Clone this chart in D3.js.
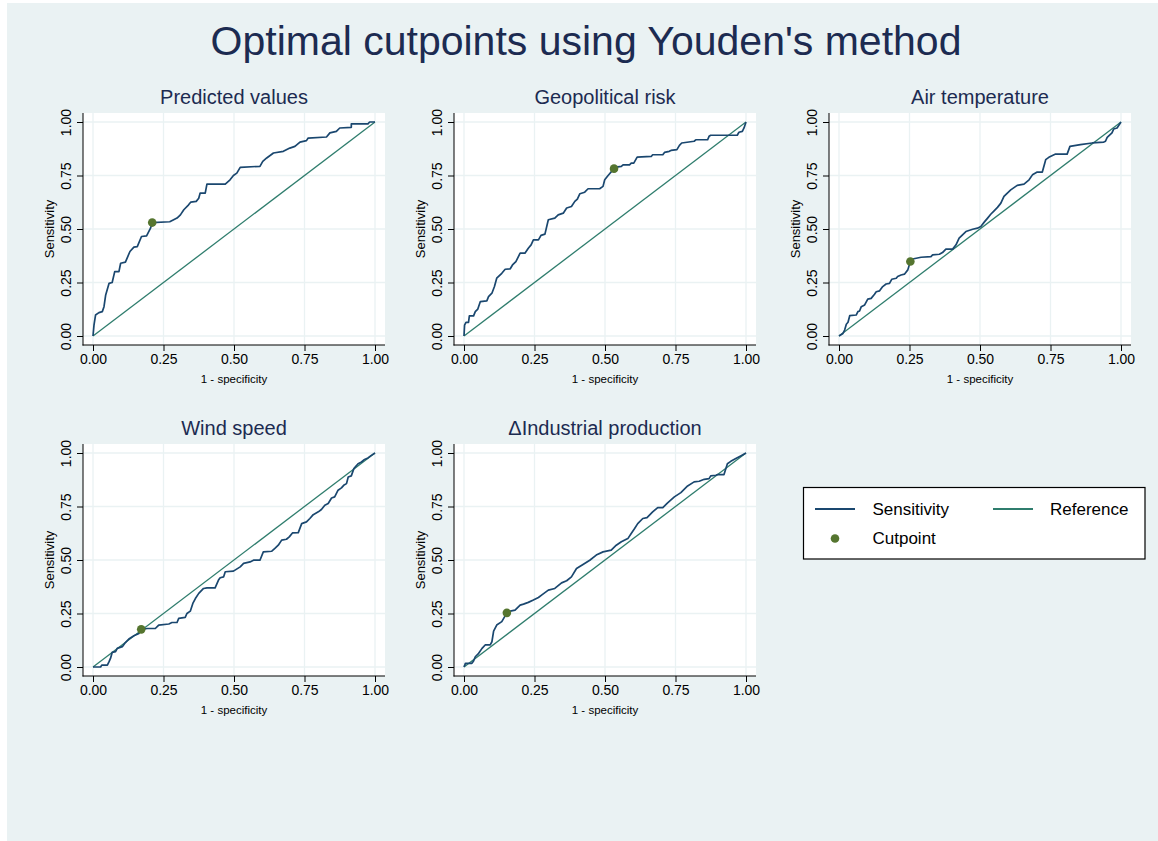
<!DOCTYPE html>
<html>
<head>
<meta charset="utf-8">
<script src="https://cdn.jsdelivr.net/npm/d3@7"></script>
<style>
  body { margin: 0; background: #ffffff; }
  svg { display: block; font-family: "Liberation Sans", Arial, sans-serif; }
</style>
</head>
<body>
<script>
// ---------------- DATA ----------------
const mainTitle = "Optimal cutpoints using Youden's method";
const panelTitles = ["Predicted values", "Geopolitical risk", "Air temperature", "Wind speed", "\u0394Industrial production"];
const xAxisTitle = "1 - specificity";
const yAxisTitle = "Sensitivity";
const tickValues = [0, 0.25, 0.5, 0.75, 1];
const tickLabels = ["0.00", "0.25", "0.50", "0.75", "1.00"];
const legendLabels = ["Sensitivity", "Reference", "Cutpoint"];

// ROC curves: [1 - specificity, sensitivity]
const rocPredicted = [
  [0,0],[0.0035,0.051],[0.009,0.098],[0.021,0.109],[0.033,0.114],[0.039,0.137],[0.045,0.192],
  [0.057,0.246],[0.068,0.250],[0.077,0.301],[0.092,0.301],[0.098,0.340],[0.115,0.345],
  [0.131,0.395],[0.145,0.415],[0.157,0.418],[0.172,0.465],[0.190,0.468],[0.204,0.504],
  [0.210,0.530],[0.272,0.534],[0.286,0.543],[0.298,0.551],[0.310,0.566],[0.322,0.590],
  [0.339,0.613],[0.347,0.626],[0.366,0.629],[0.375,0.644],[0.380,0.668],[0.398,0.668],
  [0.404,0.710],[0.469,0.710],[0.486,0.730],[0.498,0.750],[0.510,0.761],[0.522,0.788],
  [0.592,0.793],[0.602,0.816],[0.616,0.832],[0.640,0.855],[0.675,0.863],[0.698,0.878],
  [0.716,0.886],[0.734,0.906],[0.757,0.913],[0.763,0.925],[0.828,0.930],[0.840,0.949],
  [0.863,0.956],[0.875,0.972],[0.916,0.975],[0.916,0.991],[0.975,0.991],[0.981,1.0],[1,1]
];
const rocGeopolitical = [
  [0,0],[0.002,0.051],[0.007,0.064],[0.016,0.064],[0.019,0.094],[0.034,0.094],[0.040,0.114],
  [0.049,0.126],[0.058,0.161],[0.081,0.164],[0.087,0.184],[0.099,0.200],[0.108,0.231],
  [0.116,0.270],[0.134,0.293],[0.146,0.312],[0.164,0.314],[0.172,0.332],[0.184,0.348],
  [0.199,0.387],[0.216,0.387],[0.228,0.410],[0.238,0.426],[0.246,0.449],[0.264,0.449],
  [0.273,0.470],[0.287,0.476],[0.299,0.543],[0.322,0.551],[0.334,0.566],[0.352,0.574],
  [0.364,0.598],[0.381,0.605],[0.393,0.629],[0.402,0.640],[0.411,0.665],[0.428,0.672],
  [0.440,0.688],[0.481,0.688],[0.493,0.699],[0.499,0.730],[0.511,0.750],[0.532,0.782],
  [0.540,0.789],[0.558,0.793],[0.564,0.800],[0.587,0.800],[0.593,0.808],[0.602,0.808],
  [0.614,0.836],[0.664,0.839],[0.669,0.847],[0.705,0.847],[0.711,0.858],[0.728,0.863],
  [0.734,0.867],[0.755,0.871],[0.764,0.891],[0.772,0.902],[0.816,0.910],[0.822,0.917],
  [0.864,0.917],[0.869,0.933],[0.875,0.938],[0.969,0.938],[0.975,0.952],[0.987,0.956],
  [0.993,0.972],[1,1]
];
const rocAirTemp = [
  [0,0],[0.014,0.012],[0.020,0.028],[0.026,0.055],[0.032,0.064],[0.038,0.095],[0.061,0.098],
  [0.067,0.114],[0.073,0.117],[0.079,0.137],[0.091,0.145],[0.102,0.172],[0.114,0.176],
  [0.126,0.195],[0.132,0.207],[0.144,0.211],[0.155,0.231],[0.167,0.243],[0.179,0.246],
  [0.187,0.265],[0.203,0.270],[0.208,0.278],[0.220,0.285],[0.232,0.289],[0.244,0.309],
  [0.253,0.348],[0.261,0.360],[0.291,0.368],[0.326,0.371],[0.332,0.379],[0.356,0.382],
  [0.367,0.390],[0.379,0.406],[0.403,0.406],[0.415,0.426],[0.426,0.457],[0.438,0.473],
  [0.450,0.488],[0.474,0.499],[0.491,0.504],[0.503,0.512],[0.515,0.532],[0.527,0.551],
  [0.538,0.569],[0.550,0.585],[0.562,0.601],[0.574,0.621],[0.585,0.652],[0.597,0.668],
  [0.609,0.683],[0.632,0.704],[0.656,0.710],[0.674,0.730],[0.686,0.753],[0.703,0.766],
  [0.721,0.766],[0.733,0.824],[0.744,0.835],[0.768,0.850],[0.809,0.850],[0.819,0.886],
  [0.856,0.894],[0.898,0.902],[0.939,0.906],[0.945,0.910],[0.951,0.928],[0.968,0.949],
  [0.974,0.967],[0.986,0.972],[1,1]
];
const rocWindSpeed = [
  [0,0],[0.027,0],[0.031,0.009],[0.051,0.009],[0.057,0.025],[0.062,0.040],[0.068,0.068],
  [0.080,0.072],[0.086,0.087],[0.104,0.095],[0.115,0.114],[0.127,0.131],[0.145,0.146],
  [0.163,0.157],[0.171,0.176],[0.192,0.180],[0.221,0.180],[0.233,0.196],[0.269,0.201],
  [0.280,0.208],[0.298,0.208],[0.304,0.227],[0.327,0.232],[0.333,0.250],[0.345,0.261],
  [0.354,0.297],[0.363,0.320],[0.375,0.344],[0.392,0.367],[0.404,0.370],[0.433,0.370],
  [0.445,0.406],[0.451,0.417],[0.463,0.421],[0.469,0.445],[0.498,0.448],[0.522,0.468],
  [0.534,0.484],[0.557,0.491],[0.569,0.499],[0.592,0.499],[0.604,0.538],[0.634,0.541],
  [0.645,0.554],[0.657,0.569],[0.669,0.593],[0.686,0.597],[0.696,0.608],[0.708,0.627],
  [0.728,0.628],[0.740,0.670],[0.757,0.678],[0.769,0.694],[0.781,0.712],[0.799,0.725],
  [0.810,0.736],[0.822,0.756],[0.834,0.764],[0.846,0.790],[0.857,0.795],[0.869,0.826],
  [0.881,0.837],[0.889,0.849],[0.899,0.857],[0.905,0.888],[0.916,0.893],[0.925,0.927],
  [0.940,0.950],[0.952,0.958],[0.963,0.970],[0.975,0.977],[0.987,0.989],[1,1]
];
const rocIndustrial = [
  [0,0],[0.002,0.006],[0.005,0.017],[0.028,0.017],[0.034,0.028],[0.040,0.048],[0.052,0.064],
  [0.064,0.087],[0.075,0.103],[0.093,0.103],[0.099,0.118],[0.105,0.168],[0.116,0.196],
  [0.134,0.212],[0.152,0.253],[0.164,0.261],[0.181,0.266],[0.199,0.289],[0.211,0.294],
  [0.228,0.302],[0.246,0.313],[0.264,0.325],[0.275,0.336],[0.299,0.359],[0.322,0.367],
  [0.346,0.393],[0.364,0.403],[0.381,0.421],[0.399,0.460],[0.422,0.479],[0.446,0.499],
  [0.469,0.523],[0.493,0.538],[0.522,0.546],[0.540,0.569],[0.558,0.585],[0.581,0.600],
  [0.593,0.624],[0.605,0.647],[0.616,0.670],[0.634,0.694],[0.649,0.698],[0.669,0.725],
  [0.687,0.745],[0.705,0.745],[0.722,0.767],[0.746,0.795],[0.769,0.815],[0.793,0.846],
  [0.816,0.865],[0.834,0.868],[0.852,0.877],[0.869,0.880],[0.875,0.893],[0.893,0.896],
  [0.899,0.899],[0.922,0.899],[0.934,0.950],[0.946,0.961],[0.964,0.974],[0.981,0.986],[1,1]
];
const rocCurves = [rocPredicted, rocGeopolitical, rocAirTemp, rocWindSpeed, rocIndustrial];
const cutpoints = [[0.210,0.530],[0.532,0.782],[0.253,0.348],[0.171,0.176],[0.152,0.253]];
const referenceLine = [[0,0],[1,1]];

// ---------------- STYLE / LAYOUT ----------------
const W = 1158, H = 841;
const bgColor = "#eaf2f3";
const gridColor = "#eaf2f3";
const titleColor = "#1c2b51";
const sensColor = "#1a476f";
const refColor = "#2f7d6d";
const cutColor = "#55752f";
const fontFam = "'Liberation Sans', Arial, Helvetica, sans-serif";

const colLefts = [83, 454, 829];
const rowTops = [113, 444];
const plotW = 302, plotH = 232;
const padX = 10, padY = 9;

const svg = d3.select("body").append("svg")
  .attr("width", W).attr("height", H);

svg.append("rect").attr("x", 0).attr("y", 0).attr("width", W).attr("height", H).attr("fill", "#ffffff");
svg.append("rect").attr("x", 7).attr("y", 3).attr("width", W - 7).attr("height", H - 3).attr("fill", bgColor);

svg.append("text")
  .attr("x", 586).attr("y", 55)
  .attr("text-anchor", "middle")
  .attr("font-family", fontFam)
  .attr("font-size", 41)
  .attr("fill", titleColor)
  .text(mainTitle);

const fmt = (d) => tickLabels[tickValues.indexOf(d)];

rocCurves.forEach((curve, i) => {
  const col = i % 3, row = Math.floor(i / 3);
  const left = colLefts[col], top = rowTops[row];
  const right = left + plotW, bottom = top + plotH;

  const x = d3.scaleLinear().domain([0, 1]).range([left + padX, right - padX]);
  const y = d3.scaleLinear().domain([0, 1]).range([bottom - padY, top + padY]);

  const g = svg.append("g");

  // plot region
  g.append("rect").attr("x", left).attr("y", top).attr("width", plotW).attr("height", plotH).attr("fill", "#ffffff");

  // grid
  g.selectAll(".gx").data(tickValues).enter().append("line")
    .attr("x1", d => x(d)).attr("x2", d => x(d))
    .attr("y1", top).attr("y2", bottom)
    .attr("stroke", gridColor).attr("stroke-width", 1.3);
  g.selectAll(".gy").data(tickValues).enter().append("line")
    .attr("x1", left).attr("x2", right)
    .attr("y1", d => y(d)).attr("y2", d => y(d))
    .attr("stroke", gridColor).attr("stroke-width", 1.3);

  const line = d3.line().x(d => x(d[0])).y(d => y(d[1])).curve(d3.curveLinear);

  // reference
  g.append("path").datum(referenceLine).attr("d", line)
    .attr("fill", "none").attr("stroke", refColor).attr("stroke-width", 1.3);

  // ROC curve
  g.append("path").datum(curve).attr("d", line)
    .attr("fill", "none").attr("stroke", sensColor).attr("stroke-width", 1.7)
    .attr("stroke-linejoin", "round");

  // cutpoint
  g.append("circle")
    .attr("cx", x(cutpoints[i][0])).attr("cy", y(cutpoints[i][1]))
    .attr("r", 4.3).attr("fill", cutColor);

  // axes
  const xAxis = d3.axisBottom(x).tickValues(tickValues).tickFormat(fmt).tickSize(6).tickSizeOuter(0);
  const yAxis = d3.axisLeft(y).tickValues(tickValues).tickFormat(fmt).tickSize(6).tickSizeOuter(0);

  const gx = g.append("g").attr("transform", `translate(0,${bottom})`).call(xAxis);
  const gy = g.append("g").attr("transform", `translate(${left},0)`).call(yAxis);

  [gx, gy].forEach(a => {
    a.select(".domain").remove();
    a.selectAll(".tick line").attr("stroke", "#000").attr("stroke-width", 1);
    a.selectAll(".tick text").attr("font-family", fontFam).attr("font-size", 14).attr("fill", "#000");
  });
  gy.selectAll(".tick text")
    .attr("x", 0).attr("dy", 0)
    .attr("text-anchor", "middle")
    .attr("transform", "translate(-12,0) rotate(-90)");

  g.append("line").attr("x1", left).attr("x2", left).attr("y1", top).attr("y2", bottom + 0.5)
    .attr("stroke", "#000").attr("stroke-width", 1);
  g.append("line").attr("x1", left - 0.5).attr("x2", right).attr("y1", bottom).attr("y2", bottom)
    .attr("stroke", "#000").attr("stroke-width", 1);

  // axis titles
  g.append("text")
    .attr("transform", `translate(${left - 29},${(top + bottom) / 2}) rotate(-90)`)
    .attr("text-anchor", "middle")
    .attr("font-family", fontFam).attr("font-size", 13).attr("fill", "#000")
    .text(yAxisTitle);
  g.append("text")
    .attr("x", (left + right) / 2).attr("y", bottom + 37.5)
    .attr("text-anchor", "middle")
    .attr("font-family", fontFam).attr("font-size", 11.5).attr("fill", "#000")
    .text(xAxisTitle);

  // panel title
  g.append("text")
    .attr("x", (left + right) / 2).attr("y", top - 9.5)
    .attr("text-anchor", "middle")
    .attr("font-family", fontFam).attr("font-size", 20).attr("fill", titleColor)
    .text(panelTitles[i]);
});

// ---------------- LEGEND ----------------
const lg = svg.append("g");
lg.append("rect").attr("x", 803.5).attr("y", 487.5).attr("width", 341.5).attr("height", 71.5)
  .attr("fill", "#ffffff").attr("stroke", "#000").attr("stroke-width", 1.2);
lg.append("line").attr("x1", 815).attr("x2", 855).attr("y1", 509).attr("y2", 509)
  .attr("stroke", sensColor).attr("stroke-width", 2);
lg.append("text").attr("x", 872.5).attr("y", 515).attr("font-family", fontFam).attr("font-size", 17)
  .attr("fill", "#000").text(legendLabels[0]);
lg.append("line").attr("x1", 993).attr("x2", 1033).attr("y1", 509).attr("y2", 509)
  .attr("stroke", refColor).attr("stroke-width", 2);
lg.append("text").attr("x", 1050).attr("y", 515).attr("font-family", fontFam).attr("font-size", 17)
  .attr("fill", "#000").text(legendLabels[1]);
lg.append("circle").attr("cx", 835).attr("cy", 538.5).attr("r", 4.3).attr("fill", cutColor);
lg.append("text").attr("x", 872.5).attr("y", 544).attr("font-family", fontFam).attr("font-size", 17)
  .attr("fill", "#000").text(legendLabels[2]);
</script>
</body>
</html>
